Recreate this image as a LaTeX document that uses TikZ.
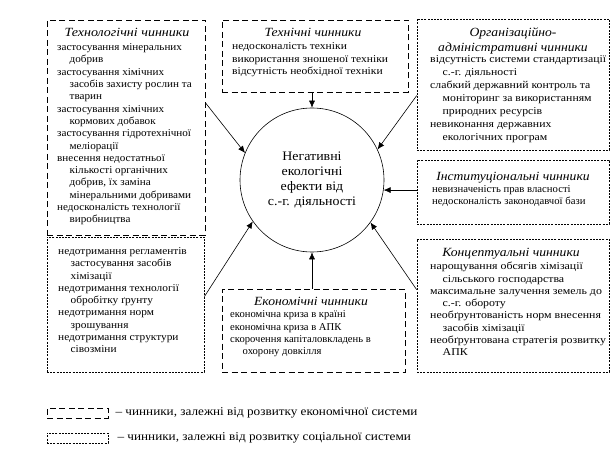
\documentclass[tikz,border=0pt]{standalone}
\usepackage{fontspec}
\setmainfont{Liberation Serif}
\usetikzlibrary{arrows.meta}
\newcommand{\st}{\rule{0pt}{7.5pt}}
\newcommand{\ts}{\rule{0pt}{9pt}}
\newcommand{\ci}{\hspace*{12.5pt}}
\newcommand{\fs}[3]{\fontsize{#1}{#2}\selectfont\addfontfeatures{FakeStretch=#3}}
\begin{document}
\begin{tikzpicture}[x=1pt,y=-1pt,
  ecobox/.style={draw, line width=0.7pt, dash pattern=on 6pt off 3.5pt, inner sep=0, minimum width=#1},
  socbox/.style={draw, line width=0.7pt, dash pattern=on 2pt off 1.2pt, inner sep=0, minimum width=#1},
  txt/.style 2 args={anchor=north west, inner sep=0, align=left, font=\fs{10.5}{#1}{#2}},
  ttl/.style={anchor=north, inner sep=0, align=center, font=\fs{12.5}{15}{1.09}\itshape},
  arr/.style={line width=0.6pt, -{Latex[length=7pt,width=6pt]}},
  legtxt/.style={anchor=west, inner sep=0, font=\fs{12}{14}{1.1}}
]
\useasboundingbox (0,0) rectangle (613,457);

% boxes
\node[ecobox=158pt, minimum height=215pt] (tech) at (126,127.5) {};
\node[socbox=157pt, minimum height=135pt] (techlow) at (125.5,304.5) {};
\node[ecobox=186pt, minimum height=72pt] (technical) at (315,56) {};
\node[socbox=192pt, minimum height=131pt] (org) at (513,84.5) {};
\node[socbox=192pt, minimum height=64pt] (inst) at (513,192) {};
\node[socbox=192pt, minimum height=133pt] (concept) at (513,305.5) {};
\node[ecobox=183pt, minimum height=83pt] (econ) at (313.5,330.5) {};

% circle
\node[circle, draw, line width=0.6pt, minimum size=144pt, inner sep=0, align=center,
      font=\fs{13}{15}{1.07}] (c) at (312,180)
  {Негативні\\екологічні\\ефекти від\\с.-г. діяльності};

% titles
\node[ttl] (techT) at (127,27) {\ts\addfontfeatures{FakeStretch=1.12}Технологічні чинники};
\node[ttl] (technicalT) at (313,27) {\ts Технічні чинники};
\node[ttl] (orgT) at (513,27) {\ts Організаційно-\\адміністративні чинники};
\node[ttl] (instT) at (513,171) {\ts Інституціональні чинники};
\node[ttl] (conceptT) at (511,247) {\ts Концептуальні чинники};
\node[ttl] (econT) at (311,296) {\ts Економічні чинники};

% items
\node[txt={12.3}{1.06}] (techL) at (57,43) {\st застосування мінеральних\\
\ci добрив\\
застосування хімічних\\
\ci засобів захисту рослин та\\
\ci тварин\\
застосування хімічних\\
\ci кормових добавок\\
застосування гідротехнічної\\
\ci меліорації\\
внесення недостатньої\\
\ci кількості органічних\\
\ci добрив, їх заміна\\
\ci мінеральними добривами\\
недосконалість технології\\
\ci виробництва};

\node[txt={12.25}{1.08}] (techlowL) at (58,247) {\st недотримання регламентів\\
\ci застосування засобів\\
\ci хімізації\\
недотримання технології\\
\ci обробітку ґрунту\\
недотримання норм\\
\ci зрошування\\
недотримання структури\\
\ci сівозміни};

\node[txt={12.5}{1.1}] (technicalL) at (232,42) {\st недосконалість техніки\\
використання зношеної техніки\\
відсутність необхідної техніки};

\node[txt={13}{1.12}] (orgL) at (430,55) {\st відсутність системи стандартизації\\
\ci с.-г. діяльності\\
слабкий державний контроль та\\
\ci моніторинг за використанням\\
\ci природних ресурсів\\
невиконання державних\\
\ci екологічних програм};

\node[txt={12}{1.02}] (instL) at (432,185) {\st невизначеність прав власності\\
недосконалість законодавчої бази};

\node[txt={12.3}{1.13}] (conceptL) at (430,262) {\st нарощування обсягів хімізації\\
\ci сільського господарства\\
максимальне залучення земель до\\
\ci с.-г. обороту\\
необґрунтованість норм внесення\\
\ci засобів хімізації\\
необґрунтована стратегія розвитку\\
\ci АПК};

\node[txt={12.3}{1.01}] (econL) at (230,310) {\st економічна криза в країні\\
економічна криза в АПК\\
скорочення капіталовкладень в\\
\ci охорону довкілля};

% connectors
\draw[arr] (technical.south -| c.north) -- (c.north);
\draw[arr] (econ.north -| c.south) -- (c.south);
\draw[arr] ([shift={(0,83)}]tech.north east) -- (c.158);
\draw[arr] ([shift={(0,77)}]org.north west) -- (c.25);
\draw[arr] (inst.west |- c.352) -- (c.352);
\draw[arr] ([shift={(0,60)}]techlow.north east) -- (c.215);
\draw[arr] ([shift={(0,51)}]concept.north west) -- (c.324);

% legend
\node[ecobox=61pt, minimum height=10pt] (leg1) at (77.5,413) {};
\node[socbox=61pt, minimum height=10pt] (leg2) at (77.5,438) {};
\node[legtxt] (leg1T) at ([xshift=7pt]leg1.east) {– чинники, залежні від розвитку економічної системи};
\node[legtxt] (leg2T) at ([xshift=9pt]leg2.east) {– чинники, залежні від розвитку соціальної системи};
\end{tikzpicture}
\end{document}
